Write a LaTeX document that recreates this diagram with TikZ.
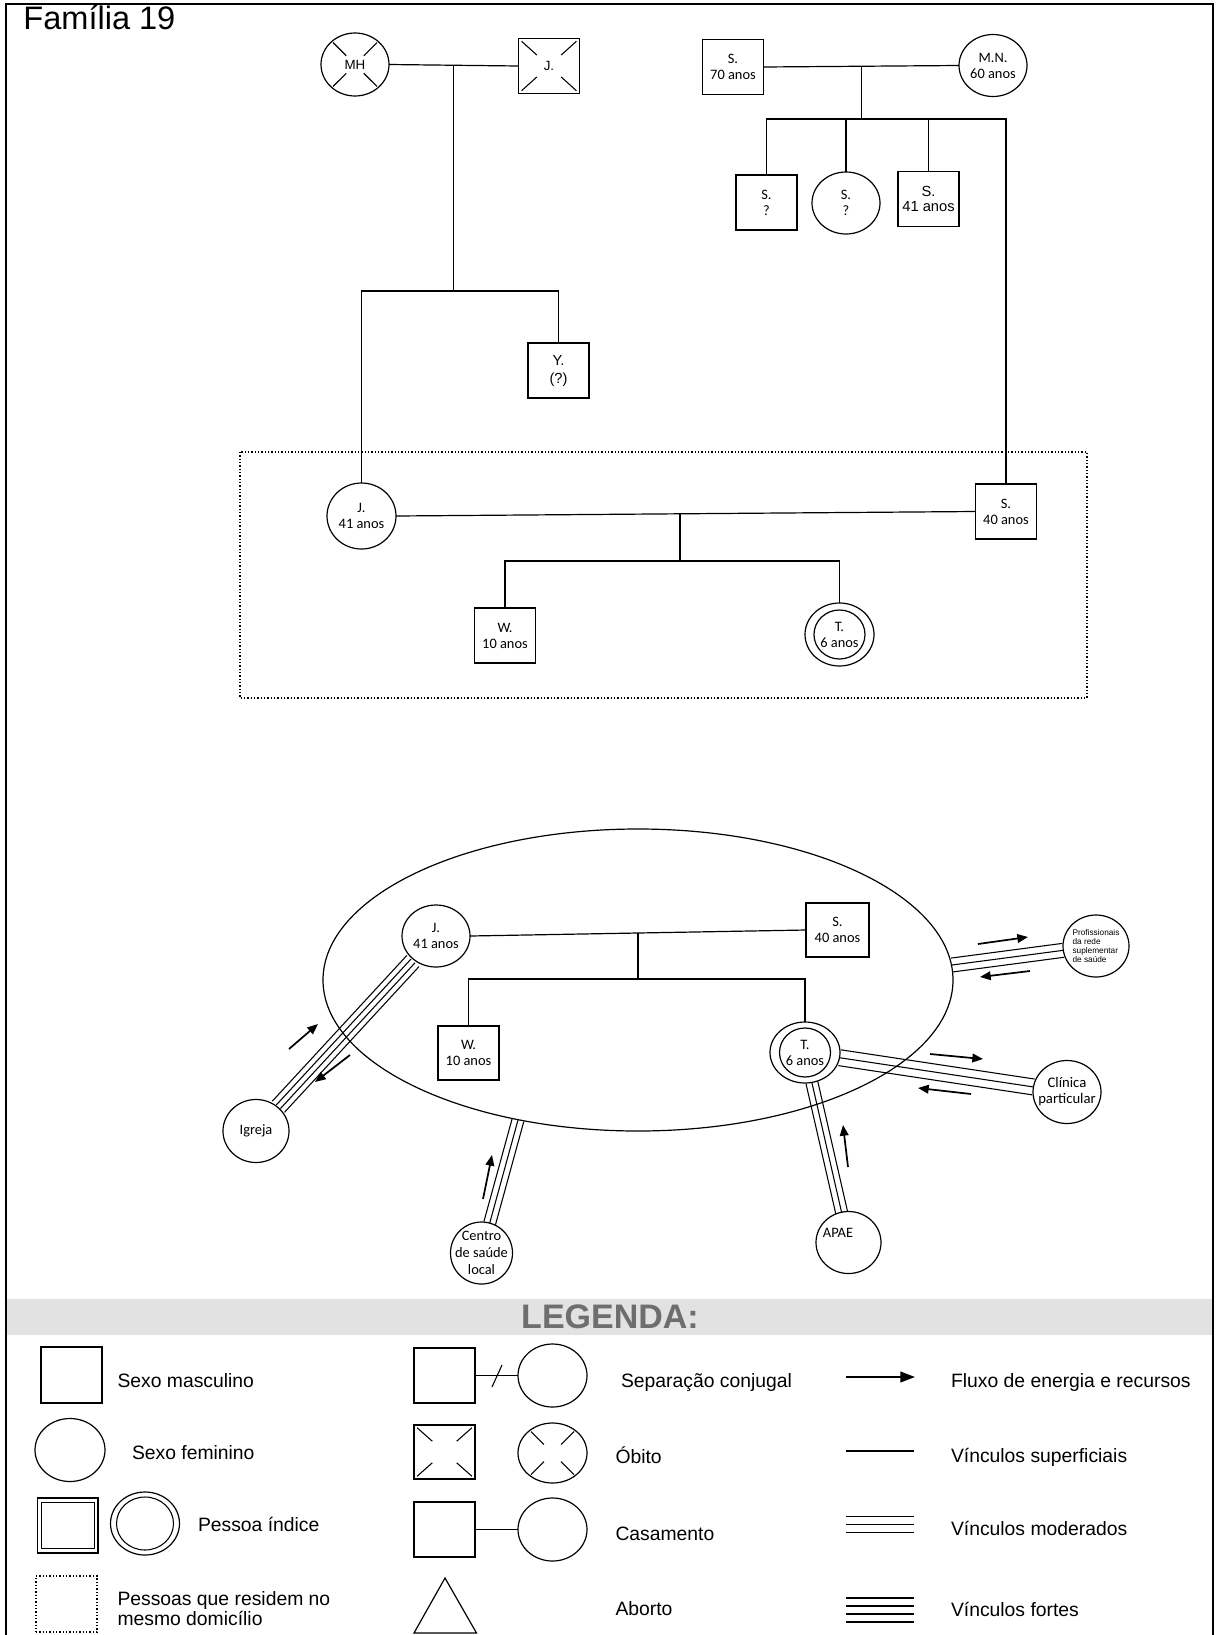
\documentclass[tikz,border=0pt]{standalone}
\usepackage{fontspec}
\setmainfont{Liberation Sans}
\newfontfamily\calib{Carlito}
\usetikzlibrary{shapes.geometric,calc,arrows.meta}
\definecolor{barfill}{HTML}{E2E2E2}
\definecolor{leggray}{HTML}{6E6E6E}
\newcommand\deadsq[1]{\foreach \c in {north west,north east,south west,south east}{\draw[line width=0.8pt] ($(#1.\c)!0.1!(#1.center)$) -- ($(#1.\c)!0.6!(#1.center)$);}}
\newcommand\deadci[1]{\foreach \a in {45,135,225,315}{\draw[line width=0.8pt] ($(#1.center)!0.38!(#1.\a)$) -- ($(#1.center)!0.95!(#1.\a)$);}}
\newcommand\bond[5]{\foreach \o in {#1}{\draw[bondln,shorten <=#4,shorten >=#5] ($(#2)!\o!90:(#3)$) -- ($(#3)!\o!-90:(#2)$);}}
\begin{document}
\begin{tikzpicture}[x=0.75pt,y=-0.75pt,
  every node/.style={inner sep=0pt,outer sep=0pt},
  sz/.style 2 args={minimum width=#1*0.75pt,minimum height=#2*0.75pt},
  male/.style={draw,rectangle,line width=0.9pt},
  fem/.style={draw,ellipse,line width=0.9pt},
  conn/.style={line width=0.9pt},
  cal/.style={font=\calib\fontsize{10.8}{12}\selectfont,align=center},
  ari/.style={font=\fontsize{10}{12}\selectfont,align=center},
  legtxt/.style={font=\fontsize{14.5}{15}\selectfont,anchor=base west},
  flow/.style={line width=1.3pt,-{Triangle[length=8pt,width=6.5pt]}},
  bondln/.style={line width=0.8pt},
  house/.style={line width=0.9pt,dash pattern=on 0.9pt off 1.6pt},
]
\useasboundingbox (0,0) rectangle (1218,1635);
% page frame
\draw[line width=1.2pt] (6,1640) -- (6,4) -- (1213,4) -- (1213,1640);
\node[anchor=base west,font=\fontsize{24.4}{29}\selectfont] (title) at (23.5,29) {Família 19};

% ---------- top-left family
\node[fem,sz={68}{63},ari] (MH) at (355,64.5) {MH};
\deadci{MH}
\node[male,sz={61}{55},ari] (J1) at (549,66) {J.};
\deadsq{J1}
\node[male,sz={61}{55},font=\fontsize{11}{13.5}\selectfont,align=center] (Y) at (558.5,370.5) {Y.\\(?)};

% ---------- top-right family
\node[male,sz={61}{55},cal] (S70) at (733,67) {S.\\70 anos};
\node[fem,sz={68}{62},cal] (MN) at (993,65.5) {M.N.\\60 anos};
\node[male,sz={61}{55},cal] (Sq) at (766.5,202.5) {S.\\?};
\node[fem,sz={68}{62},cal] (Sc) at (846,203) {S.\\?};
\node[male,sz={61}{55},font=\fontsize{11}{11.5}\selectfont,align=center] (S41) at (928.5,199) {S.\\41 anos};

% ---------- household
\draw[house] (240,452) rectangle (1087,698);
\node[fem,sz={69}{66},cal] (J41) at (361.5,516) {J.\\41 anos};
\node[male,sz={61}{55},cal] (S40) at (1006,511.5) {S.\\40 anos};
\node[male,sz={61}{55},cal] (W) at (505,635.5) {W.\\10 anos};
\node[fem,sz={69}{63},cal] (T) at (839.5,634.5) {T.\\6 anos};
\node[fem,sz={51}{49}] (Ti) at (T.center) {};

% connectors top-left
\coordinate (m1) at ($(MH.east)!0.5!(J1.west)$);
\coordinate (c1) at (453.5,291);
\draw[conn] (MH.east) -- (J1.west);
\draw[conn] (m1) -- (m1 |- c1);
\draw[conn] (J41.north) -- (J41.north |- c1) -- (Y.north |- c1) -- (Y.north);
% connectors top-right
\coordinate (m2) at ($(S70.east)!0.5!(MN.west)$);
\coordinate (c2) at (862,119);
\draw[conn] (S70.east) -- (MN.west);
\draw[conn] (m2) -- (m2 |- c2);
\draw[conn] (Sq.north) -- (Sq.north |- c2) -- (S40.north |- c2) -- (S40.north);
\draw[conn] (Sc.north) -- (Sc.north |- c2);
\draw[conn] (S41.north) -- (S41.north |- c2);
% household connectors
\coordinate (m3) at ($(J41.east)!0.49!(S40.west)$);
\coordinate (c3) at (680,561);
\draw[conn] (J41.east) -- (S40.west);
\draw[conn] (m3) -- (m3 |- c3);
\draw[conn] (W.north) -- (W.north |- c3) -- (T.north |- c3) -- (T.north);

% ---------- eco-map
\node[fem,sz={630}{302}] (home) at (638,980) {};
\node[fem,sz={68}{62},cal] (Je) at (436,936) {J.\\41 anos};
\node[male,sz={63}{54},cal] (Se) at (837.5,930) {S.\\40 anos};
\node[male,sz={61}{54},cal] (We) at (468.5,1053) {W.\\10 anos};
\node[fem,sz={70}{61},cal] (Te) at (805,1052.5) {T.\\6 anos};
\node[fem,sz={51}{49}] (Tei) at (Te.center) {};
\coordinate (em) at ($(Je.east)!0.5!(Se.west)$);
\coordinate (ec) at (639,979);
\draw[conn] (Je.east) -- (Se.west);
\draw[conn] (em) -- (em |- ec);
\draw[conn] (We.north) -- (We.north |- ec) -- (Te.north |- ec) -- (Te.north);

\node[fem,sz={66}{63},cal] (Ig) at (256,1131) {Igreja};
\node[fem,sz={62}{62}] (Ce) at (481.5,1253) {};
\node[cal,font=\calib\fontsize{10.8}{13}\selectfont] (Cet) at (Ce.center) {Centro\\de saúde\\local};
\node[fem,sz={65}{62}] (AP) at (848.5,1242.5) {};
\node[cal] (APt) at (838,1233) {APAE};
\node[fem,sz={68}{63}] (Cl) at (1067,1092) {};
\node[cal,font=\calib\fontsize{11}{12}\selectfont] (Clt) at (Cl.center) {Clínica\\particular};
\node[fem,sz={66}{62}] (Pr) at (1096,946) {};
\node[font=\fontsize{6.2}{6.9}\selectfont,align=left] (Prt) at (Pr.center) {Profissionais\\da rede\\suplementar\\de saúde};

\coordinate (eC) at (518,1120);
\coordinate (eP) at (952,965);
\bond{-6.19pt,-2.06pt,2.06pt,6.19pt}{Je.center}{Ig.center}{25.5pt}{24.75pt}
\bond{-4.5pt,0pt,4.5pt}{eC}{Ce.center}{0pt}{23.25pt}
\bond{-4.5pt,0pt,4.5pt}{Te.center}{AP.center}{23.25pt}{23.25pt}
\bond{-6pt,0pt,6pt}{Te.center}{Cl.center}{26.25pt}{25.5pt}
\bond{-5.25pt,0pt,5.25pt}{eP}{Pr.center}{0pt}{24.75pt}

% flow arrows
\coordinate (f1a) at (289,1049); \coordinate (f1b) at (318,1024);
\coordinate (f2a) at (350,1055); \coordinate (f2b) at (315,1082);
\coordinate (f3a) at (483,1199); \coordinate (f3b) at (492,1155);
\coordinate (f4a) at (848,1167); \coordinate (f4b) at (843,1125);
\coordinate (f5a) at (930,1054); \coordinate (f5b) at (983,1059);
\coordinate (f6a) at (971,1094); \coordinate (f6b) at (918,1088);
\coordinate (f7a) at (978,944);  \coordinate (f7b) at (1028,937);
\coordinate (f8a) at (1030,971); \coordinate (f8b) at (980,977);
\foreach \i in {1,...,8}{\draw[flow] (f\i a) -- (f\i b);}

% ---------- legend
\fill[barfill] (6.6,1299) rectangle (1212.4,1335);
\node[font=\bfseries\fontsize{25.5}{30}\selectfont,text=leggray] (legt) at (610,1317) {LEGENDA:};

\node[male,sz={61}{56}] (Lm) at (71.5,1375) {};
\node[legtxt] (Lmt) at (117.5,1387) {Sexo masculino};
\node[male,sz={61}{55}] (Lsq) at (444.5,1375.5) {};
\node[fem,sz={69}{63}] (Lsc) at (552.5,1375.5) {};
\draw[conn] (Lsq.east) -- (Lsc.west);
\coordinate (sl1) at (492,1387); \coordinate (sl2) at (502,1365);
\draw[line width=0.8pt] (sl1) -- (sl2);
\node[legtxt] (Lst) at (621,1387) {Separação conjugal};
\coordinate (Lfa) at (846,1377); \coordinate (Lfb) at (915,1377);
\draw[line width=1.5pt,-{Triangle[length=11pt,width=8pt]}] (Lfa) -- (Lfb);
\node[legtxt] (Lft) at (951,1387) {Fluxo de energia e recursos};

\node[fem,sz={70}{63}] (Lf) at (70,1450) {};
\node[legtxt] (Lft2) at (132,1459) {Sexo feminino};
\node[male,sz={61}{54}] (Ldq) at (444.5,1452) {};
\deadsq{Ldq}
\node[fem,sz={69}{60}] (Ldc) at (552.5,1453) {};
\deadci{Ldc}
\node[legtxt] (Ldt) at (615.5,1463) {Óbito};
\coordinate (Lva) at (846,1451); \coordinate (Lvb) at (914,1451);
\draw[line width=0.8pt] (Lva) -- (Lvb);
\node[legtxt] (Lvt) at (951,1462) {Vínculos superficiais};

\node[male,sz={60.5}{55}] (Liq) at (67.75,1525.5) {};
\node[male,sz={53.5}{46},line width=0.7pt] (Liq2) at (Liq.center) {};
\node[fem,sz={69}{63}] (Lic) at (145,1523.5) {};
\node[fem,sz={57}{53},line width=0.8pt] (Lic2) at (Lic.center) {};
\node[legtxt] (Lit) at (198,1531) {Pessoa índice};
\node[male,sz={61}{55}] (Lcq) at (444.5,1529.5) {};
\node[fem,sz={69}{63}] (Lcc) at (552.5,1529.5) {};
\draw[conn] (Lcq.east) -- (Lcc.west);
\node[legtxt] (Lct) at (615.5,1540) {Casamento};
\foreach \yy in {1516.7,1524.3,1532.3}{\draw[line width=0.8pt] (846,\yy) -- (914,\yy);}
\node[legtxt] (Lmod) at (951,1535) {Vínculos moderados};

\node[draw,house,sz={61}{56}] (Lh) at (66.5,1604) {};
\node[legtxt] (Lhl1) at (117.5,1605) {Pessoas que residem no};
\node[legtxt] (Lhl2) at (117.5,1625) {mesmo domicílio};
\draw[conn] (445,1578) -- (476.5,1633) -- (414,1633) -- cycle;
\node[legtxt] (Lat) at (615.5,1615) {Aborto};
\foreach \yy in {1598,1606,1614,1622}{\draw[line width=0.8pt] (846,\yy) -- (914,\yy);}
\node[legtxt] (Lsf) at (951,1616) {Vínculos fortes};
\end{tikzpicture}
\end{document}
